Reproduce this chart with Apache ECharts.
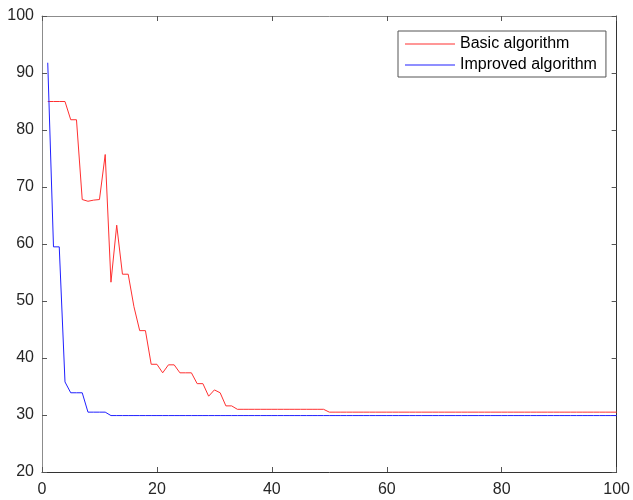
<!DOCTYPE html>
<html>
<head>
<meta charset="utf-8">
<script src="https://cdn.jsdelivr.net/npm/echarts@6/dist/echarts.min.js"></script>
<style>
html,body{margin:0;padding:0;background:#fff;}
#chart{width:633px;height:500px;}
</style>
</head>
<body>
<div id="chart"></div>
<script>
var iterations = [];
for (var i = 1; i <= 100; i++) iterations.push(i);

var basicValues = [
  85, 85, 85, 85, 81.8, 81.8, 67.8, 67.5, 67.7, 67.8,
  75.7, 53.3, 63.3, 54.7, 54.7, 49.0, 44.8, 44.8, 38.9, 38.9,
  37.4, 38.8, 38.8, 37.4, 37.4, 37.4, 35.5, 35.5, 33.3, 34.4,
  33.9, 31.6, 31.6, 31.0, 31.0, 31.0, 31.0, 31.0, 31.0, 31.0,
  31.0, 31.0, 31.0, 31.0, 31.0, 31.0, 31.0, 31.0, 31.0, 30.5,
  30.5, 30.5, 30.5, 30.5, 30.5, 30.5, 30.5, 30.5, 30.5, 30.5,
  30.5, 30.5, 30.5, 30.5, 30.5, 30.5, 30.5, 30.5, 30.5, 30.5,
  30.5, 30.5, 30.5, 30.5, 30.5, 30.5, 30.5, 30.5, 30.5, 30.5,
  30.5, 30.5, 30.5, 30.5, 30.5, 30.5, 30.5, 30.5, 30.5, 30.5,
  30.5, 30.5, 30.5, 30.5, 30.5, 30.5, 30.5, 30.5, 30.5, 30.5
];

var improvedValues = [
  91.8, 59.5, 59.5, 35.8, 33.9, 33.9, 33.9, 30.5, 30.5, 30.5,
  30.5, 29.9, 29.9, 29.9, 29.9, 29.9, 29.9, 29.9, 29.9, 29.9,
  29.9, 29.9, 29.9, 29.9, 29.9, 29.9, 29.9, 29.9, 29.9, 29.9,
  29.9, 29.9, 29.9, 29.9, 29.9, 29.9, 29.9, 29.9, 29.9, 29.9,
  29.9, 29.9, 29.9, 29.9, 29.9, 29.9, 29.9, 29.9, 29.9, 29.9,
  29.9, 29.9, 29.9, 29.9, 29.9, 29.9, 29.9, 29.9, 29.9, 29.9,
  29.9, 29.9, 29.9, 29.9, 29.9, 29.9, 29.9, 29.9, 29.9, 29.9,
  29.9, 29.9, 29.9, 29.9, 29.9, 29.9, 29.9, 29.9, 29.9, 29.9,
  29.9, 29.9, 29.9, 29.9, 29.9, 29.9, 29.9, 29.9, 29.9, 29.9,
  29.9, 29.9, 29.9, 29.9, 29.9, 29.9, 29.9, 29.9, 29.9, 29.9
];

var seriesNames = ['Basic algorithm', 'Improved algorithm'];

function pairs(vals) {
  return iterations.map(function (x, k) { return [x, vals[k]]; });
}

var font = 'Liberation Sans, Arial, Helvetica, sans-serif';

function xAx(pos, showLabel, color) {
  return {
    type: 'value', position: pos, min: 0, max: 100, interval: 20,
    axisLine: { show: true, onZero: false, lineStyle: { color: color, width: 1 } },
    axisTick: { show: true, inside: true, length: 5, lineStyle: { color: '#555555' } },
    axisLabel: { show: showLabel, color: '#262626', fontSize: 16, fontFamily: font, margin: 10 },
    splitLine: { show: false }
  };
}
function yAx(pos, showLabel, color) {
  return {
    type: 'value', position: pos, min: 20, max: 100, interval: 10,
    axisLine: { show: true, onZero: false, lineStyle: { color: color, width: 1 } },
    axisTick: { show: true, inside: true, length: 5, lineStyle: { color: '#555555' } },
    axisLabel: { show: showLabel, color: '#262626', fontSize: 16, fontFamily: font, margin: 8 },
    splitLine: { show: false }
  };
}

var chart = echarts.init(document.getElementById('chart'), null, { renderer: 'canvas' });
chart.setOption({
  animation: false,
  backgroundColor: '#ffffff',
  grid: { left: 42, right: 16, top: 16, bottom: 28, containLabel: false },
  xAxis: [xAx('bottom', true, '#333333'), xAx('top', false, '#8c8c8c')],
  yAxis: [yAx('left', true, '#8c8c8c'), yAx('right', false, '#333333')],
  legend: {
    orient: 'vertical',
    left: 398, top: 31,
    data: seriesNames,
    icon: 'rect',
    itemWidth: 50, itemHeight: 1.2,
    itemGap: 3,
    padding: [4, 9, 3, 7],
    borderColor: '#555555', borderWidth: 1,
    backgroundColor: '#ffffff',
    textStyle: { color: '#000000', fontSize: 16, fontFamily: font, lineHeight: 18 }
  },
  series: [
    {
      name: seriesNames[0], type: 'line', data: pairs(basicValues),
      xAxisIndex: 0, yAxisIndex: 0,
      symbol: 'none', color: '#ff3030',
      lineStyle: { color: '#ff3030', width: 1 }
    },
    {
      name: seriesNames[1], type: 'line', data: pairs(improvedValues),
      xAxisIndex: 0, yAxisIndex: 0,
      symbol: 'none', color: '#2020ff',
      lineStyle: { color: '#2020ff', width: 1 }
    }
  ]
});
</script>
</body>
</html>
